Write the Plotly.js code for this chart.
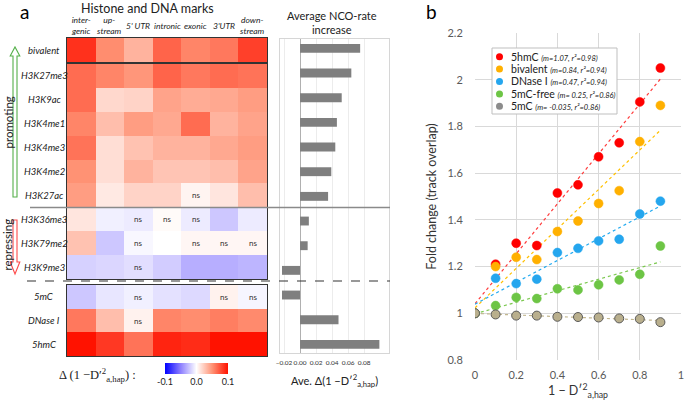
<!DOCTYPE html>
<html><head><meta charset="utf-8">
<script src="https://cdn.plot.ly/plotly-3.0.1.min.js"></script>
<style>html,body{margin:0;padding:0;background:#fff}#chart{width:685px;height:403px}</style>
</head><body><div id="chart"></div>
<script>
// ---------- DATA ----------
const regions = ['intergenic','upstream',"5' UTR",'intronic','exonic',"3'UTR",'downstream'];
const regionLabels = ['inter-<br>genic','up-<br>stream',"5' UTR",'intronic','exonic',"3'UTR",'down-<br>stream'];

const marksTop = ['bivalent'];
const marksHistone = ['H3K27me3','H3K9ac','H3K4me1','H3K4me3','H3K4me2','H3K27ac','H3K36me3','H3K79me2','H3K9me3'];
const marksDNA = ['5mC','DNase I','5hmC'];

const deltaTop = [
  [0.088, 0.052, 0.035, 0.068, 0.055, 0.060, 0.082]
];
const deltaHistone = [
  [0.065, 0.055, 0.048, 0.068, 0.060, 0.065, 0.062],
  [0.065, 0.018, 0.020, 0.042, 0.038, 0.040, 0.045],
  [0.055, 0.030, 0.045, 0.040, 0.065, 0.035, 0.042],
  [0.062, 0.015, 0.028, 0.035, 0.035, 0.040, 0.045],
  [0.050, 0.015, 0.035, 0.027, 0.027, 0.030, 0.042],
  [0.045, 0.010, 0.020, 0.020, 0.005, 0.012, 0.030],
  [0.012, -0.006, -0.008, 0.002, -0.008, -0.022, -0.008],
  [0.028, -0.022, -0.003, 0.000, 0.004, 0.004, 0.004],
  [-0.018, -0.016, -0.013, -0.020, -0.032, -0.032, -0.029]
];
const deltaDNA = [
  [-0.022, -0.010, -0.006, -0.012, -0.015, 0.006, -0.004],
  [0.060, 0.030, 0.006, 0.055, 0.052, 0.058, 0.053],
  [0.100, 0.085, 0.062, 0.093, 0.090, 0.100, 0.100]
];
// non-significant cells: [mark, region]
const nsCells = [
  ['H3K27ac','exonic'],
  ['H3K36me3',"5' UTR"],['H3K36me3','intronic'],['H3K36me3','exonic'],
  ['H3K79me2',"5' UTR"],['H3K79me2','exonic'],['H3K79me2',"3'UTR"],['H3K79me2','downstream'],
  ['H3K9me3',"5' UTR"],
  ['5mC',"5' UTR"],['5mC',"3'UTR"],['5mC','downstream'],
  ['DNase I',"5' UTR"]
];

const allMarks = ['bivalent','H3K27me3','H3K9ac','H3K4me1','H3K4me3','H3K4me2','H3K27ac','H3K36me3','H3K79me2','H3K9me3','5mC','DNase I','5hmC'];
const avgIncrease = [0.075, 0.064, 0.052, 0.046, 0.044, 0.039, 0.035, 0.011, 0.0095, -0.0225, -0.0225, 0.048, 0.099];

const overlapX = [0, 0.1, 0.2, 0.3, 0.4, 0.5, 0.6, 0.7, 0.8, 0.9];
const fold5hmC     = [1.00, 1.21, 1.30, 1.29, 1.515, 1.55, 1.67, 1.73, 1.905, 2.05];
const foldBivalent = [1.00, 1.20, 1.24, 1.23, 1.35, 1.395, 1.47, 1.525, 1.735, 1.89];
const foldDNase    = [1.00, 1.15, 1.127, 1.146, 1.26, 1.278, 1.31, 1.317, 1.425, 1.48];
const fold5mCfree  = [1.00, 1.033, 1.068, 1.063, 1.105, 1.10, 1.122, 1.143, 1.167, 1.288];
const fold5mC      = [1.00, 0.995, 0.99, 0.99, 0.985, 0.984, 0.982, 0.978, 0.976, 0.962];

const seriesNames  = ['5hmC','bivalent','DNase I','5mC-free','5mC'];
const seriesParams = ['(m=1.07, r²=0.98)','(m=0.84, r²=0.94)','(m=0.47, r²=0.94)','(m= 0.25, r²=0.86)','(m= -0.035, r²=0.86)'];
const seriesData   = [fold5hmC, foldBivalent, foldDNase, fold5mCfree, fold5mC];
const markerColors = ['#FF0000','#FFB000','#25A6EE','#6DC545','#B9AF8D'];
const markerLines  = ['#FF0000','#FFB000','#25A6EE','#6DC545','#5a5a5a'];
const legendColors = ['#FF0000','#FFB000','#25A6EE','#6DC545','#8c8c8c'];
const trendColors  = ['#FF3B3B','#FFC000','#22AAF0','#7CC850','#C2B78F'];

// ---------- helpers ----------
const W = 685, H = 403;
const px = v => v / W;
const py = v => 1 - v / H;
const FONT = 'Lato, "Open Sans", sans-serif';

function nsText(marks) {
  return marks.map(m => regions.map(r => nsCells.some(c => c[0] === m && c[1] === r) ? 'ns' : ''));
}
function linfit(x, y) {
  const n = x.length;
  const mx = x.reduce((a,b)=>a+b,0)/n, my = y.reduce((a,b)=>a+b,0)/n;
  let sxy = 0, sxx = 0;
  for (let i=0;i<n;i++){ sxy += (x[i]-mx)*(y[i]-my); sxx += (x[i]-mx)*(x[i]-mx); }
  const m = sxy/sxx; return {m, b: my - m*mx};
}

// ---------- traces ----------
const traces = [];
function hm(marks, z, xa, ya) {
  return {type:'heatmap', x: regions, y: marks, z: z, coloraxis:'coloraxis',
    text: nsText(marks), texttemplate:'%{text}', textfont:{size:8, color:'#333', family:FONT},
    xaxis: xa, yaxis: ya, hoverinfo:'skip'};
}
traces.push(hm(marksTop, deltaTop, 'x', 'y'));
traces.push(hm(marksHistone, deltaHistone, 'x2', 'y2'));
traces.push(hm(marksDNA, deltaDNA, 'x3', 'y3'));

traces.push({type:'bar', orientation:'h', x: avgIncrease, y: allMarks, xaxis:'x4', yaxis:'y4',
  marker:{color:'#7f7f7f'}, width:0.36, hoverinfo:'skip'});

seriesData.forEach((ys, i) => {
  const f = linfit(overlapX, ys);
  const xs = [overlapX[0], overlapX[overlapX.length-1]];
  traces.push({type:'scatter', mode:'lines', x: xs, y: xs.map(v => f.b + f.m*v),
    line:{color: trendColors[i], width:1.2, dash:'dot'}, xaxis:'x5', yaxis:'y5', hoverinfo:'skip'});
});
seriesData.forEach((ys, i) => {
  traces.push({type:'scatter', mode:'markers', x: overlapX, y: ys, name: seriesNames[i],
    marker:{color: markerColors[i], size:9, line:{color: markerLines[i], width: i===4 ? 1 : 0.5}},
    xaxis:'x5', yaxis:'y5', hoverinfo:'skip'});
});

// ---------- layout ----------
const hmX = [px(67), px(267)];
const hmXaxis = anchor => ({domain: hmX, anchor: anchor, range:[-0.5, 6.5], showticklabels:false,
  showline:true, mirror:true, linecolor:'#333', linewidth:1.3, showgrid:false, zeroline:false, ticks:''});
const hmYaxis = (anchor, dom) => ({domain: dom, anchor: anchor, autorange:'reversed', showticklabels:false,
  showline:true, mirror:true, linecolor:'#333', linewidth:1.3, showgrid:false, zeroline:false, ticks:''});

const annotations = [];
const shapes = [];
function ann(o) { annotations.push(Object.assign({showarrow:false, xanchor:'center', yanchor:'middle',
  font:{family:FONT, size:12, color:'#222'}}, o)); }

ann({text:'a', x:px(25), y:py(11), xref:'paper', yref:'paper', font:{family:FONT, size:19, color:'#000'}});
ann({text:'b', x:px(431), y:py(12), xref:'paper', yref:'paper', font:{family:FONT, size:19, color:'#000'}});
ann({text:'Histone and DNA marks', x:px(147), y:py(9), xref:'paper', yref:'paper', font:{family:FONT, size:12.5, color:'#222'}});
regions.forEach((r, i) => ann({text: regionLabels[i], x: r, xref:'x', y: py(26), yref:'paper',
  font:{family:FONT, size:8.5, color:'#222', style:'italic'}}));
// row labels
[[marksTop,'y'],[marksHistone,'y2'],[marksDNA,'y3']].forEach(([ms, ya]) => ms.forEach(m =>
  ann({text: m, x: px(44), xref:'paper', y: m, yref: ya,
       font:{family:FONT, size:9.5, color:'#222', style:'italic'}})));
ann({text:'Average NCO-rate<br>increase', x:px(332), y:py(23), xref:'paper', yref:'paper', font:{family:FONT, size:11, color:'#222'}});
ann({text:'Ave. Δ(1 −D′<sup>2</sup><sub>a,hap</sub>)', x:px(334), y:py(380), xref:'paper', yref:'paper', font:{family:FONT, size:11, color:'#222'}});
ann({text:'Δ (1 −D′<sup>2</sup><sub>a,hap</sub>) :', x:px(97), y:py(375), xref:'paper', yref:'paper', font:{family:'"Liberation Serif", serif', size:12.5, color:'#222'}});
ann({text:'promoting', x:px(7.5), y:py(123), xref:'paper', yref:'paper', textangle:-90, font:{family:FONT, size:11.5, color:'#222'}});
ann({text:'repressing', x:px(7.5), y:py(245), xref:'paper', yref:'paper', textangle:-90, font:{family:FONT, size:11.5, color:'#222'}});

// custom legend for panel b
const legTop = 48, legRow = 12.4;
shapes.push({type:'rect', xref:'paper', yref:'paper', x0:px(492), x1:px(617), y0:py(114), y1:py(legTop),
  line:{color:'#bfbfbf', width:1}, fillcolor:'#ffffff', layer:'above'});
seriesNames.forEach((n, i) => {
  const cy = legTop + 8.7 + legRow * i;
  shapes.push({type:'circle', xref:'paper', yref:'paper', x0:px(496), x1:px(503), y0:py(cy+3.5), y1:py(cy-3.5),
    fillcolor: legendColors[i], line:{width:0}, layer:'above'});
  annotations.push({text: n + ' <i><span style="font-size:7.5px">' + seriesParams[i] + '</span></i>', showarrow:false,
    x:px(509), y:py(cy), xref:'paper', yref:'paper', xanchor:'left', yanchor:'middle',
    font:{family:FONT, size:10.5, color:'#222'}});
});

// separator lines
shapes.push({type:'line', xref:'paper', yref:'paper', x0:px(30), x1:px(390), y0:py(207.5), y1:py(207.5),
  line:{color:'#8a8a8a', width:1.6}, layer:'above'});
shapes.push({type:'line', xref:'paper', yref:'paper', x0:px(27), x1:px(390), y0:py(281), y1:py(281),
  line:{color:'#333', width:1.2, dash:'dash'}, layer:'above'});

// hollow arrows
function arrowPath(xc, yStart, yHeadBase, yTip, shaftHalf, headHalf) {
  const P = (x, y) => px(x) + ',' + py(y);
  return 'M ' + P(xc - shaftHalf, yStart) + ' L ' + P(xc - shaftHalf, yHeadBase) + ' L ' + P(xc - headHalf, yHeadBase) +
    ' L ' + P(xc, yTip) + ' L ' + P(xc + headHalf, yHeadBase) + ' L ' + P(xc + shaftHalf, yHeadBase) +
    ' L ' + P(xc + shaftHalf, yStart) + ' Z';
}
shapes.push({type:'path', xref:'paper', yref:'paper', path: arrowPath(15, 197, 56, 47, 2, 4.8),
  line:{color:'#55B04A', width:1.1}, fillcolor:'rgba(0,0,0,0)'});
shapes.push({type:'path', xref:'paper', yref:'paper', path: arrowPath(15, 220, 262, 274, 2, 4.8),
  line:{color:'#FF4A4A', width:1.1}, fillcolor:'rgba(0,0,0,0)'});

const layout = {
  width: W, height: H, margin:{l:0, r:0, t:0, b:0}, paper_bgcolor:'#fff', plot_bgcolor:'rgba(0,0,0,0)',
  showlegend:false, font:{family:FONT, color:'#222'},
  coloraxis:{cmin:-0.1, cmax:0.1,
    colorscale:[[0,'#0000FF'],[0.25,'#8E80FF'],[0.5,'#FFFFFF'],[0.75,'#FF9274'],[1,'#FF1200']],
    colorbar:{orientation:'h', x:px(196.5), xanchor:'center', y:py(373.5), yanchor:'middle',
      len:63, lenmode:'pixels', thickness:11, thicknessmode:'pixels', outlinewidth:0,
      tickvals:[-0.1, 0, 0.1], ticktext:['-0.1','0.0','0.1'], ticks:'', ticklen:0,
      tickfont:{family:FONT, size:9, color:'#222'}, xpad:0, ypad:0}},
  xaxis: hmXaxis('y'),
  yaxis: hmYaxis('x', [py(62), py(38)]),
  xaxis2: hmXaxis('y2'),
  yaxis2: hmYaxis('x2', [py(279), py(64)]),
  xaxis3: hmXaxis('y3'),
  yaxis3: hmYaxis('x3', [py(356), py(285)]),
  xaxis4: {domain:[px(280), px(389)], anchor:'y4', range:[-0.025, 0.111],
    tickvals:[-0.02, 0, 0.02, 0.04, 0.06, 0.08], tickformat:'.2f', tickangle:0,
    ticks:'outside', ticklen:3, tickcolor:'rgba(0,0,0,0)',
    tickfont:{family:FONT, size:6.5, color:'#333'},
    showgrid:true, gridcolor:'#ececec', zeroline:true, zerolinecolor:'#b0b0b0', zerolinewidth:1,
    showline:true, mirror:true, linecolor:'#d6d6d6', linewidth:1},
  yaxis4: {domain:[py(353), py(39)], anchor:'x4', type:'category', range:[12.35, -0.38],
    showticklabels:false, showgrid:false, ticks:'', showline:true, mirror:true, linecolor:'#d6d6d6', linewidth:1},
  xaxis5: {domain:[px(475), px(681)], anchor:'y5', range:[0, 1], dtick:0.2, tick0:0,
    showgrid:true, gridcolor:'#d9d9d9', gridwidth:1, zeroline:false, showline:false,
    ticks:'outside', ticklen:5, tickcolor:'rgba(0,0,0,0)',
    tickfont:{family:FONT, size:11, color:'#595959'},
    title:{text:'1 − D′<sup>2</sup><sub>a,hap</sub>', font:{family:FONT, size:12.5, color:'#333'}, standoff:6}},
  yaxis5: {domain:[py(360), py(33)], anchor:'x5', range:[0.8, 2.2], dtick:0.2, tick0:0.8,
    showgrid:true, gridcolor:'#d9d9d9', gridwidth:1, zeroline:false, showline:false,
    ticks:'outside', ticklen:9, tickcolor:'rgba(0,0,0,0)',
    tickfont:{family:FONT, size:11, color:'#595959'},
    title:{text:'Fold change (track overlap)', font:{family:FONT, size:12.5, color:'#333'}, standoff:8}},
  annotations: annotations,
  shapes: shapes
};

Plotly.newPlot('chart', traces, layout, {staticPlot:true, displayModeBar:false});
</script>
</body></html>
